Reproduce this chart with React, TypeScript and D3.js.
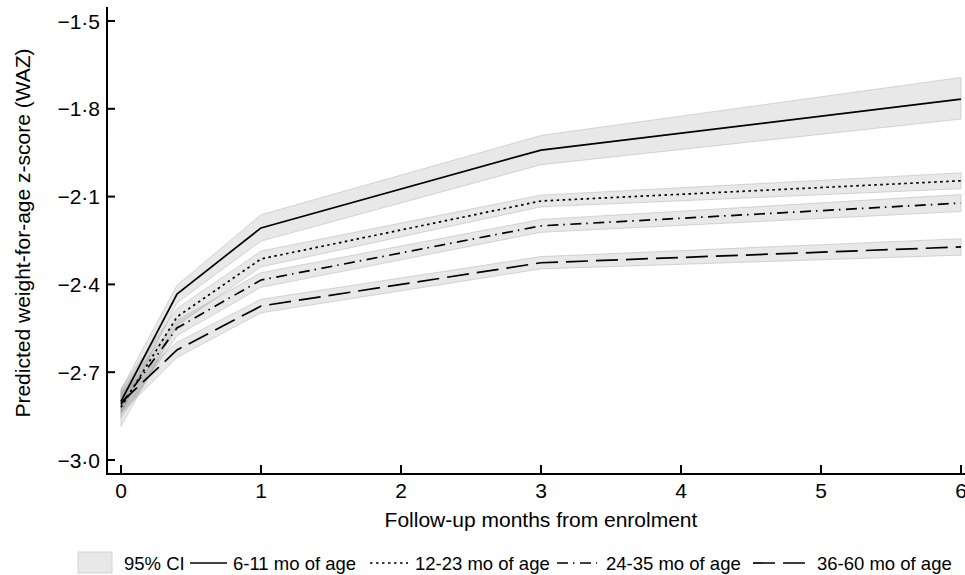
import React from "react";
import * as d3 from "d3";

const months = [0, 0.4, 1, 3, 6];

const waz_6_11 = [-2.8, -2.433, -2.207, -1.941, -1.767];
const lo_6_11 = [-2.84, -2.463, -2.252, -1.991, -1.835];
const hi_6_11 = [-2.76, -2.403, -2.162, -1.891, -1.693];

const waz_12_23 = [-2.82, -2.511, -2.313, -2.115, -2.046];
const lo_12_23 = [-2.885, -2.54, -2.34, -2.135, -2.073];
const hi_12_23 = [-2.755, -2.482, -2.286, -2.095, -2.019];

const waz_24_35 = [-2.81, -2.549, -2.385, -2.2, -2.122];
const lo_24_35 = [-2.855, -2.575, -2.41, -2.222, -2.151];
const hi_24_35 = [-2.765, -2.523, -2.36, -2.178, -2.093];

const waz_36_60 = [-2.804, -2.624, -2.474, -2.326, -2.272];
const lo_36_60 = [-2.84, -2.65, -2.497, -2.347, -2.3];
const hi_36_60 = [-2.768, -2.598, -2.451, -2.305, -2.244];

const seriesNames = ["6-11 mo of age", "12-23 mo of age", "24-35 mo of age", "36-60 mo of age"];
const xTicks = [0, 1, 2, 3, 4, 5, 6];
const yTicks = [-3.0, -2.7, -2.4, -2.1, -1.8, -1.5];

const dashes = ["none", "2.5,3.5", "11,5,1.5,5.5", "22,8"];

const FONT = "'Liberation Sans', Arial, sans-serif";

export default function App() {
  const W = 965, H = 575;
  const x = d3.scaleLinear().domain([0, 6]).range([121, 961]);
  const y = d3.scaleLinear().domain([-3.0, -1.5]).range([460, 21]);

  const series = [
    { name: seriesNames[0], v: waz_6_11, lo: lo_6_11, hi: hi_6_11, dash: dashes[0] },
    { name: seriesNames[1], v: waz_12_23, lo: lo_12_23, hi: hi_12_23, dash: dashes[1] },
    { name: seriesNames[2], v: waz_24_35, lo: lo_24_35, hi: hi_24_35, dash: dashes[2] },
    { name: seriesNames[3], v: waz_36_60, lo: lo_36_60, hi: hi_36_60, dash: dashes[3] },
  ];

  const makeArea = (lo: number[], hi: number[]) =>
    d3
      .area<number>()
      .x((d) => x(d))
      .y0((d, i) => y(lo[i]))
      .y1((d, i) => y(hi[i]))(months) || "";

  const makeLine = (v: number[]) =>
    d3
      .line<number>()
      .x((d) => x(d))
      .y((d, i) => y(v[i]))(months) || "";

  const fmt = (t: number) => "\u2212" + Math.abs(t).toFixed(1).replace(".", "\u00b7");

  const legY = 563;
  const legendItems = [
    { x1: 190, x2: 227, tx: 233, dash: dashes[0], name: seriesNames[0] },
    { x1: 370, x2: 408, tx: 415, dash: dashes[1], name: seriesNames[1] },
    { x1: 557, x2: 597, tx: 606, dash: dashes[2], name: seriesNames[2] },
    { x1: 753, x2: 807, tx: 817, dash: dashes[3], name: seriesNames[3] },
  ];

  return (
    <div style={{ position: "fixed", left: 0, top: 0, width: W, height: H, background: "#fff" }}>
      <svg width={W} height={H} style={{ display: "block", fontFamily: FONT }}>
        <defs>
          <clipPath id="plotclip">
            <rect x={107} y={0} width={W - 107} height={474} />
          </clipPath>
        </defs>
        <g clipPath="url(#plotclip)">
          {series.map((s, i) => (
            <path
              key={"b" + i}
              d={makeArea(s.lo, s.hi)}
              fill="#000"
              fillOpacity={0.09}
              stroke="#bdbdbd"
              strokeOpacity={0.6}
              strokeWidth={1}
            />
          ))}
          {series.map((s, i) => (
            <path
              key={"l" + i}
              d={makeLine(s.v)}
              fill="none"
              stroke="#000"
              strokeWidth={1.7}
              strokeDasharray={s.dash}
            />
          ))}
        </g>
        <line x1={107} x2={107} y1={7} y2={475} stroke="#000" strokeWidth={2} />
        {yTicks.map((t) => (
          <g key={"yt" + t}>
            <line x1={107} x2={115} y1={y(t)} y2={y(t)} stroke="#000" strokeWidth={2} />
            <text x={100} y={y(t)} dy="0.36em" textAnchor="end" fontSize={21} fill="#000">
              {fmt(t)}
            </text>
          </g>
        ))}
        <line x1={106} x2={W} y1={474} y2={474} stroke="#000" strokeWidth={2} />
        {xTicks.map((t) => (
          <g key={"xt" + t}>
            <line x1={x(t)} x2={x(t)} y1={474} y2={465} stroke="#000" strokeWidth={2} />
            <text x={x(t)} y={498} textAnchor="middle" fontSize={21} fill="#000">
              {t}
            </text>
          </g>
        ))}
        <text x={541} y={527} textAnchor="middle" fontSize={21} fill="#000">
          Follow-up months from enrolment
        </text>
        <text
          transform={`translate(30,233) rotate(-90)`}
          textAnchor="middle"
          fontSize={21}
          fill="#000"
        >
          Predicted weight-for-age z-score (WAZ)
        </text>
        <rect x={78} y={552} width={34} height={21} fill="#e8e8e8" stroke="#d4d4d4" strokeWidth={1} />
        <text x={124} y={legY} dy="0.36em" fontSize={18.5} fill="#000">
          95% CI
        </text>
        {legendItems.map((l, i) => (
          <g key={"lg" + i}>
            <line x1={l.x1} x2={l.x2} y1={legY} y2={legY} stroke="#000" strokeWidth={1.7} strokeDasharray={l.dash} />
            <text x={l.tx} y={legY} dy="0.36em" fontSize={18.5} fill="#000">
              {l.name}
            </text>
          </g>
        ))}
      </svg>
    </div>
  );
}
